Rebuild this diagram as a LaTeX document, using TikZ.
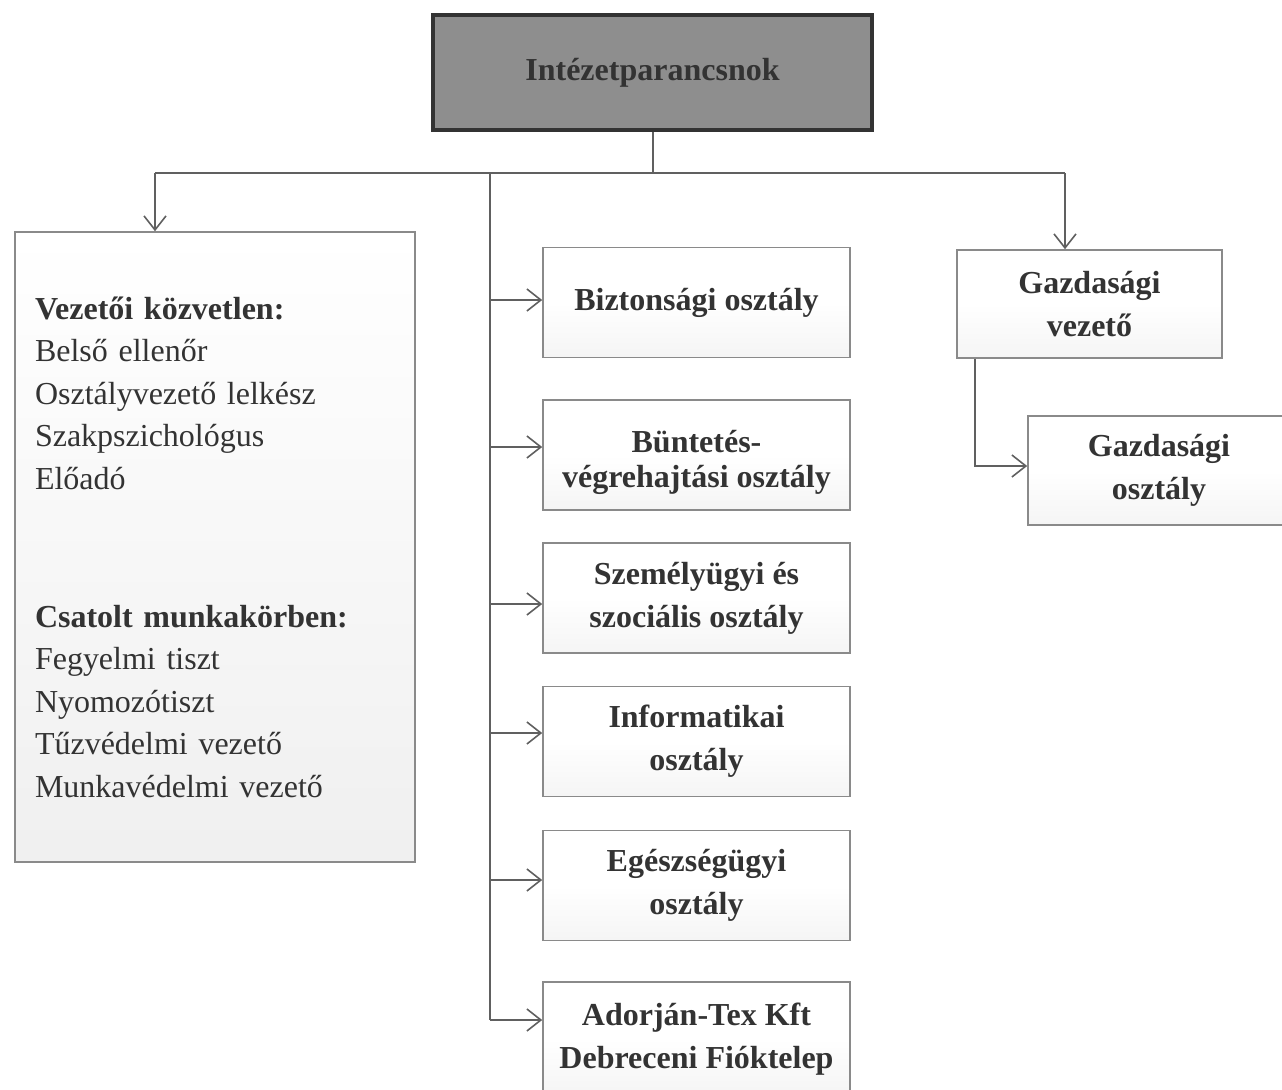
\documentclass[tikz,border=0pt]{standalone}
\usepackage{fontspec}
\setmainfont{Liberation Serif}
\usetikzlibrary{arrows.meta}
\definecolor{ink}{HTML}{333333}
\definecolor{topfill}{HTML}{8E8E8E}
\definecolor{edge}{HTML}{8A8A8A}
\definecolor{wire}{HTML}{606060}
\tikzset{
  boxbase/.style={draw=edge, line width=0.8pt, top color=white, bottom color=black!4, middle color=white, text=ink, align=center, inner sep=2pt},
  topbox/.style={draw=ink, line width=1.6pt, fill=topfill, text=ink, font=\fontsize{16}{21.5}\selectfont\bfseries, minimum width=219.5pt, minimum height=57.5pt},
  midbox/.style={boxbase, font=\fontsize{16}{21.5}\selectfont\bfseries, minimum width=153.5pt, minimum height=55pt},
  gazbox/.style={boxbase, font=\fontsize{16}{21.5}\selectfont\bfseries, minimum width=132.5pt, minimum height=54pt},
  leftbox/.style={boxbase, bottom color=black!6, font=\fontsize{16}{21.25}\selectfont, align=left, text width=180pt, inner xsep=10pt, minimum width=200pt, minimum height=315pt},
  wireline/.style={draw=wire, line width=0.6pt},
  arr/.style={wireline, line width=0.8pt, -{Straight Barb[length=7pt,width=11pt,line width=0.8pt]}}
}
\begin{document}
\begin{tikzpicture}[x=0.5pt,y=-0.5pt]
\useasboundingbox (0,0) rectangle (1282,1089);
\fill[white] (0,0) rectangle (1282,1089);

\node[topbox] (top) at (652.5,72.5) {Intézetparancsnok};

\node[leftbox] (left) at (215,547) {\textbf{Vezetői közvetlen:}\\
Belső ellenőr\\
Osztályvezető lelkész\\
Szakpszichológus\\
Előadó\\[47.75pt]
\textbf{Csatolt munkakörben:}\\
Fegyelmi tiszt\\
Nyomozótiszt\\
Tűzvédelmi vezető\\
Munkavédelmi vezető};

\node[midbox] (bizt) at (696.5,302.5) {Biztonsági osztály};
\node[midbox] (bunt) at (696.5,455) {\rule{0pt}{18.5pt}Büntetés-\\[-4pt]végrehajtási osztály};
\node[midbox] (szem) at (696.5,598) {Személyügyi és\\szociális osztály};
\node[midbox] (info) at (696.5,741.5) {Informatikai\\osztály};
\node[midbox] (egesz) at (696.5,885.5) {Egészségügyi\\osztály};
\node[midbox, minimum height=57pt] (adorj) at (696.5,1039) {Adorján-Tex Kft\\Debreceni Fióktelep};

\node[gazbox] (gv) at (1089.5,304) {Gazdasági\\vezető};
\node[gazbox, minimum width=131pt, minimum height=54.5pt] (go) at (1159,470.5) {Gazdasági\\osztály};

\coordinate (j) at (653,173);
\coordinate (busL) at (155,173);
\coordinate (busR) at (1065,173);
\coordinate (trunk) at (490,173);
\coordinate (trunkEnd) at (490,1020);
\coordinate (gvDrop) at (975,466);

\draw[wireline] (top.south -| j) -- (j);
\draw[wireline] (busL) -- (busR);
\draw[arr] (busL) -- (busL |- left.north);
\draw[arr] (busR) -- (busR |- gv.north);
\draw[wireline] (trunk) -- (trunkEnd);
\draw[arr] (490,300) -- (bizt.west |- 0,300);
\draw[arr] (490,447) -- (bunt.west |- 0,447);
\draw[arr] (490,604) -- (szem.west |- 0,604);
\draw[arr] (490,733) -- (info.west |- 0,733);
\draw[arr] (490,880) -- (egesz.west |- 0,880);
\draw[arr] (trunkEnd) -- (adorj.west |- trunkEnd);
\draw[arr] (gv.south -| gvDrop) -- (gvDrop) -- (go.west |- gvDrop);
\end{tikzpicture}
\end{document}
